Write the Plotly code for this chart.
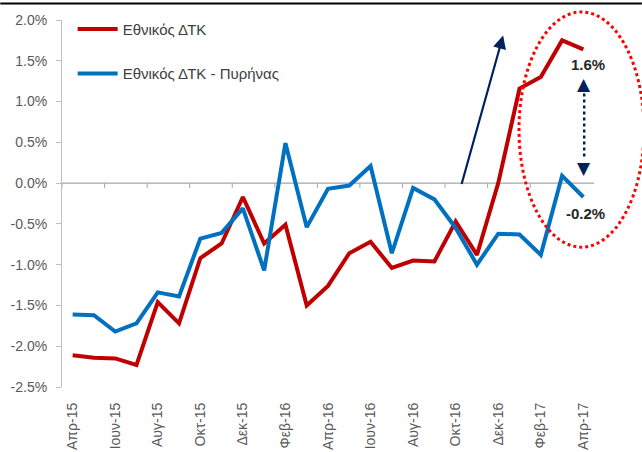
import plotly.graph_objects as go

months = ["Απρ-15", "Μαϊ-15", "Ιουν-15", "Ιουλ-15", "Αυγ-15", "Σεπ-15", "Οκτ-15", "Νοε-15",
          "Δεκ-15", "Ιαν-16", "Φεβ-16", "Μαρ-16", "Απρ-16", "Μαϊ-16", "Ιουν-16", "Ιουλ-16",
          "Αυγ-16", "Σεπ-16", "Οκτ-16", "Νοε-16", "Δεκ-16", "Ιαν-17", "Φεβ-17", "Μαρ-17", "Απρ-17"]

cpi = [-2.11, -2.14, -2.15, -2.23, -1.46, -1.72, -0.92, -0.74, -0.17, -0.74, -0.51, -1.50,
       -1.26, -0.86, -0.72, -1.04, -0.95, -0.96, -0.47, -0.88, 0.00, 1.16, 1.30, 1.75, 1.64]
core = [-1.61, -1.62, -1.82, -1.72, -1.34, -1.39, -0.68, -0.61, -0.31, -1.07, 0.49, -0.54,
        -0.07, -0.03, 0.21, -0.86, -0.06, -0.20, -0.55, -1.00, -0.62, -0.63, -0.88, 0.09, -0.17]

tick_labels = months[::2]
y_ticks = [2.0, 1.5, 1.0, 0.5, 0.0, -0.5, -1.0, -1.5, -2.0, -2.5]

FONT = "Liberation Sans"
RED = "#c00000"
BLUE = "#0070c0"
NAVY = "#002060"

fig = go.Figure()
fig.add_trace(go.Scatter(x=months, y=cpi, mode="lines", name="Εθνικός ΔΤΚ",
                         line=dict(color=RED, width=4), legendgroup="a"))
fig.add_trace(go.Scatter(x=months, y=core, mode="lines", name="Εθνικός ΔΤΚ - Πυρήνας",
                         line=dict(color=BLUE, width=4), legendgroup="b"))

shapes = []
# zero line
shapes.append(dict(type="line", xref="paper", yref="y", x0=0, x1=1, y0=0, y1=0,
                   line=dict(color="#a6a6a6", width=1.2), layer="below"))
# tick marks on zero line (category boundaries, every 2 months)
for xv in [-0.5] + [1.5 + 2 * k for k in range(12)]:
    shapes.append(dict(type="line", xref="x", yref="y", x0=xv, x1=xv, y0=0, y1=-0.06,
                       line=dict(color="#a6a6a6", width=1), layer="below"))
# red dotted ellipse
shapes.append(dict(type="circle", xref="paper", yref="paper", x0=0.859, x1=1.094, y0=0.381, y1=1.022,
                   line=dict(color="#ff0000", width=3, dash="dot")))
# dotted vertical connector
shapes.append(dict(type="line", xref="x", yref="y", x0=24.04, x1=24.04, y0=1.10, y1=0.30,
                   line=dict(color=NAVY, width=2.5, dash="dot")))
# top border strip
shapes.append(dict(type="line", xref="paper", yref="paper", x0=-0.116, x1=1.09, y0=1.045, y1=1.045,
                   line=dict(color="black", width=2)))

annotations = [
    dict(x=20.23, y=1.81, ax=18.26, ay=-0.03, xref="x", yref="y", axref="x", ayref="y",
         text="", showarrow=True, arrowhead=2, arrowsize=1.2, arrowwidth=2.2, arrowcolor=NAVY),
    dict(x=24.04, y=1.21, xref="x", yref="y", text="▲", showarrow=False,
         font=dict(size=17, color=NAVY, family="DejaVu Sans")),
    dict(x=24.04, y=0.19, xref="x", yref="y", text="▼", showarrow=False,
         font=dict(size=17, color=NAVY, family="DejaVu Sans")),
    dict(x=24.2, y=1.45, xref="x", yref="y", text="<b>1.6%</b>", showarrow=False,
         font=dict(size=15, color="#262626", family=FONT)),
    dict(x=24.1, y=-0.37, xref="x", yref="y", text="<b>-0.2%</b>", showarrow=False,
         font=dict(size=15, color="#262626", family=FONT)),
]

fig.update_layout(
    width=642, height=452,
    margin=dict(l=62, r=48, t=20, b=65),
    paper_bgcolor="white", plot_bgcolor="white",
    font=dict(family=FONT, color="#595959"),
    showlegend=True,
    legend=dict(x=0.02, y=1.02, xanchor="left", yanchor="top", bgcolor="rgba(0,0,0,0)",
                font=dict(size=15, color="#404040", family=FONT), tracegroupgap=22,
                itemwidth=40),
    xaxis=dict(type="category", range=[-0.5, 24.5], tickmode="array", tickvals=tick_labels,
               ticktext=tick_labels, tickangle=-90, showgrid=False, zeroline=False,
               showline=False, ticks="", tickfont=dict(size=14, color="#595959"),
               ticklabelstandoff=12, automargin=False),
    yaxis=dict(range=[-2.5, 2.0], tickvals=y_ticks, ticktext=[f"{v:.1f}%" for v in y_ticks],
               showgrid=False, zeroline=False, showline=True, linecolor="#bfbfbf", linewidth=1,
               ticks="outside", ticklen=5, tickcolor="#bfbfbf", ticklabelstandoff=6,
               tickfont=dict(size=14, color="#595959"), automargin=False),
    shapes=shapes,
    annotations=annotations,
)

fig.write_html("out.html", config={"displayModeBar": False},
               post_script="document.body.style.margin='0';document.body.style.overflow='hidden';")
